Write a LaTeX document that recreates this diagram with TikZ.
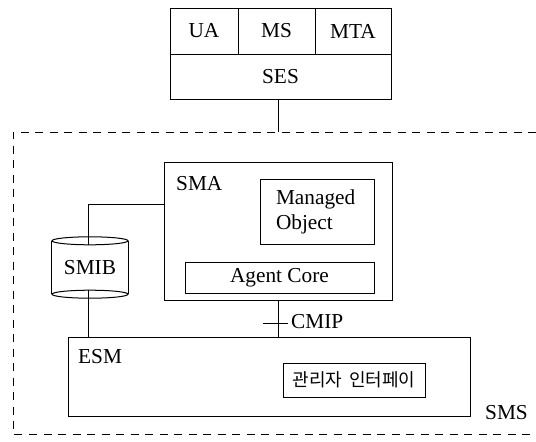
\documentclass[tikz,border=0pt]{standalone}
\usepackage{fontspec}
\setmainfont{Liberation Serif}
\newfontfamily\krfont{Noto Sans CJK KR}
\begin{document}
\begin{tikzpicture}[x=1pt,y=-1pt,
  every node/.style={font=\fontsize{21.3}{26}\selectfont},
  ln/.style={line width=1pt},
  boxn/.style={draw,ln,anchor=north west,inner sep=0pt,outer sep=0pt},
  lbl/.style={inner sep=0pt,anchor=west},
  sdash/.style={ln,dash pattern=on 8pt off 6.5pt}]
\useasboundingbox (0,0) rectangle (536,442);
% top stack
\node[boxn,minimum width=68pt,minimum height=46pt] (ua) at (170,8) {UA};
\node[boxn,minimum width=77pt,minimum height=46pt] (ms) at (238,8) {MS};
\node[boxn,minimum width=76pt,minimum height=46pt] (mta) at (315,8) {MTA};
\node[boxn,minimum width=221pt,minimum height=45pt] (ses) at (170,54) {SES};
% SMS dashed region
\coordinate (dtop) at (278,132);
\draw[sdash] (536,132) -- (13,132) -- (13,434) -- (536,434);
\node[lbl] (sms) at (485,413) {SMS};
\draw[ln] (ses.south -| dtop) -- (dtop);
% SMA
\node[boxn,minimum width=228pt,minimum height=138pt] (sma) at (164,162) {};
\node[lbl] (smalbl) at (176,184) {SMA};
\node[boxn,minimum width=114pt,minimum height=65pt,align=left,text width=106pt,inner xsep=0pt] (mo) at (260,179) {\hspace*{12pt}Managed\\[-1pt]\hspace*{12pt}Object};
\node[boxn,minimum width=189pt,minimum height=31pt] (ac) at (185,262) {Agent Core};
% SMIB
\node[inner sep=0pt,minimum width=76pt,minimum height=45pt] (smib) at (90,267.5) {SMIB};
\draw[ln] ([yshift=4pt]smib.north) ellipse [x radius=38pt,y radius=4pt];
\draw[ln] ([yshift=-4pt]smib.south) ellipse [x radius=38pt,y radius=4pt];
\draw[ln] ([yshift=4pt]smib.north west) -- ([yshift=-4pt]smib.south west);
\draw[ln] ([yshift=4pt]smib.north east) -- ([yshift=-4pt]smib.south east);
% ESM
\node[boxn,minimum width=402pt,minimum height=79pt] (esm) at (68,337) {};
\node[lbl] (esmlbl) at (78,357) {ESM};
\node[boxn,minimum width=142pt,minimum height=34pt] (mi) at (283,363) {\krfont\fontsize{18}{20}\selectfont 관리자\hspace{7pt}인터페이};
% connectors
\coordinate (smibtop) at ([xshift=-2pt]smib.north);
\draw[ln] (smibtop) |- (sma.west |- 0,204);
\draw[ln] ([xshift=-2pt]smib.south) -- ([xshift=-2pt]smib.south |- esm.north);
\coordinate (cm) at (278,300);
\draw[ln] (cm) -- (cm |- esm.north);
\coordinate (tick) at (278,323);
\draw[ln] ([xshift=-15pt]tick) -- ([xshift=10pt]tick);
\node[lbl] (cmip) at (291,322) {CMIP};
\end{tikzpicture}
\end{document}
